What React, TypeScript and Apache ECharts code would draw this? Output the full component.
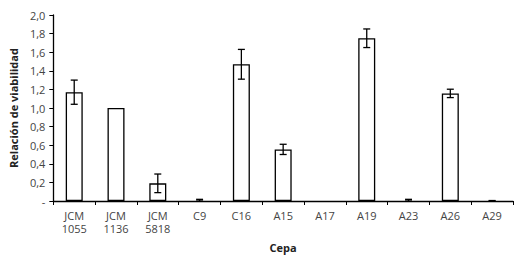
import React, { useEffect, useRef } from "react";
import * as echarts from "echarts";

const categories = ["JCM\n1055", "JCM\n1136", "JCM\n5818", "C9", "C16", "A15", "A17", "A19", "A23", "A26", "A29"];
const values = [1.17, 1.0, 0.19, 0, 1.47, 0.555, 0, 1.75, 0, 1.157, 0];
const errors = [0.13, 0, 0.1, 0.018, 0.16, 0.055, 0, 0.1, 0.018, 0.045, 0.005];
const yTicks = [0, 0.2, 0.4, 0.6, 0.8, 1.0, 1.2, 1.4, 1.6, 1.8, 2.0];

const FONT = "'Open Sans', sans-serif";

export default function App() {
  const ref = useRef<HTMLDivElement>(null);
  useEffect(() => {
    const chart = echarts.init(ref.current!, null, { renderer: "svg" });
    const errData = values.map((v, i) => [i, v, errors[i]]);
    chart.setOption({
      animation: false,
      backgroundColor: "#fff",
      grid: { left: 50, right: 11, top: 15, bottom: 58 },
      xAxis: {
        type: "category",
        data: categories,
        name: "Cepa",
        nameLocation: "middle",
        nameGap: 41,
        nameTextStyle: { fontFamily: FONT, fontWeight: "bold", fontSize: 11, color: "#222" },
        axisLine: { lineStyle: { color: "#000", width: 1.3 } },
        axisTick: { show: true, alignWithLabel: false, length: 4, lineStyle: { color: "#000", width: 1 } },
        axisLabel: { fontFamily: FONT, fontSize: 11, color: "#444", margin: 8, lineHeight: 13, interval: 0 },
      },
      yAxis: {
        type: "value",
        min: yTicks[0],
        max: yTicks[yTicks.length - 1],
        interval: 0.2,
        name: "Relación de viabilidad",
        nameLocation: "middle",
        nameGap: 34,
        nameTextStyle: { fontFamily: FONT, fontWeight: "bold", fontSize: 11, color: "#222" },
        splitLine: { show: false },
        axisLine: { show: true, lineStyle: { color: "#000", width: 1.3 } },
        axisTick: { show: true, length: 4, lineStyle: { color: "#000", width: 1 } },
        axisLabel: {
          fontFamily: FONT,
          fontSize: 11,
          color: "#444",
          margin: 8,
          formatter: (v: number) => (Math.abs(v) < 1e-9 ? "-" : v.toFixed(1).replace(".", ",")),
        },
      },
      series: [
        {
          type: "bar",
          data: values.map((v) => (v > 0 ? v : null)),
          barWidth: 17,
          itemStyle: { color: "#fff", borderColor: "#000", borderWidth: 1.3 },
        },
        {
          type: "custom",
          data: errData,
          z: 5,
          renderItem: (params: any, api: any) => {
            const i = api.value(0);
            const v = api.value(1);
            const e = api.value(2);
            if (!e) return { type: "group", children: [] };
            const top = api.coord([i, v + e]);
            const bot = api.coord([i, Math.max(0, v - e)]);
            const hw = 3.5;
            const style = { stroke: "#000", lineWidth: 1.3 };
            return {
              type: "group",
              children: [
                { type: "line", shape: { x1: top[0], y1: top[1], x2: bot[0], y2: bot[1] }, style },
                { type: "line", shape: { x1: top[0] - hw, y1: top[1], x2: top[0] + hw, y2: top[1] }, style },
                { type: "line", shape: { x1: bot[0] - hw, y1: bot[1], x2: bot[0] + hw, y2: bot[1] }, style },
              ],
            };
          },
        },
      ],
    });
    return () => chart.dispose();
  }, []);
  return <div ref={ref} style={{ width: 524, height: 259, position: "absolute", left: 0, top: 0 }} />;
}
